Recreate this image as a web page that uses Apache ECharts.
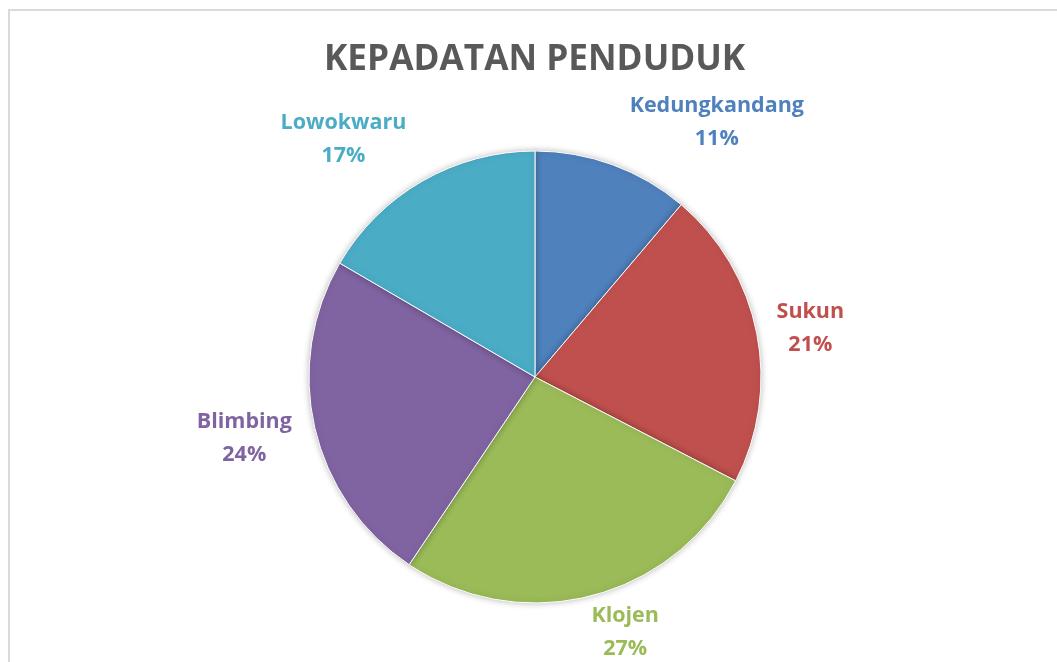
<!DOCTYPE html>
<html>
<head>
<meta charset="utf-8">
<script src="https://cdn.jsdelivr.net/npm/echarts@6/dist/echarts.min.js"></script>
<style>
  html, body { margin: 0; padding: 0; background: #fff; }
  #main { width: 1057px; height: 662px; }
</style>
</head>
<body>
<div id="main"></div>
<script>
// data (share of population density per kecamatan)
const categories = ["Kedungkandang", "Sukun", "Klojen", "Blimbing", "Lowokwaru"];
const values = [11.2, 21.4, 26.8, 24.0, 16.6];
const colors = ["#4F81BD", "#C0504D", "#9BBB59", "#8064A2", "#4BACC6"];

// small shifts so labels sit where Excel put them (outside end)
const labelNudge = [[7, -24], [-56, -1], [-61, 17], [39, 6], [21, -24]];

const chart = echarts.init(document.getElementById("main"), null, { renderer: "canvas" });

const data = categories.map((name, i) => ({
  name: name,
  value: values[i],
  itemStyle: { color: colors[i] },
  label: {
    rich: {
      n: { color: colors[i], fontSize: 21.5, fontWeight: "bold", fontFamily: "Open Sans", width: 170, align: "center", lineHeight: 33 }
    }
  }
}));

const option = {
  backgroundColor: "#fff",
  animation: false,
  title: {
    text: "KEPADATAN PENDUDUK",
    left: 319,
    top: 37,
    textStyle: {
      color: "#595959",
      fontSize: 35.2,
      fontWeight: "bold",
      fontFamily: "Open Sans"
    }
  },
  graphic: [
    {
      type: "rect",
      shape: { x: 9, y: 10, width: 1100, height: 700 },
      style: { fill: "none", stroke: "#D9D9D9", lineWidth: 2 },
      silent: true
    }
  ],
  series: [
    {
      name: "Kepadatan",
      type: "pie",
      center: [535, 377],
      radius: [0, 226],
      startAngle: 90,
      clockwise: true,
      itemStyle: {
        borderColor: "#fff",
        borderWidth: 1,
        shadowBlur: 6,
        shadowColor: "rgba(0,0,0,0.25)"
      },
      label: {
        show: true,
        position: "outside",
        formatter: function (p) {
          return "{n|" + p.name + "}\n{n|" + Math.round(p.percent) + "%}";
        }
      },
      labelLine: { show: false, length: 20, length2: 0 },
      labelLayout: function (p) {
        const d = labelNudge[p.dataIndex];
        return { dx: d[0], dy: d[1] };
      },
      data: data
    }
  ]
};

chart.setOption(option);
</script>
</body>
</html>
